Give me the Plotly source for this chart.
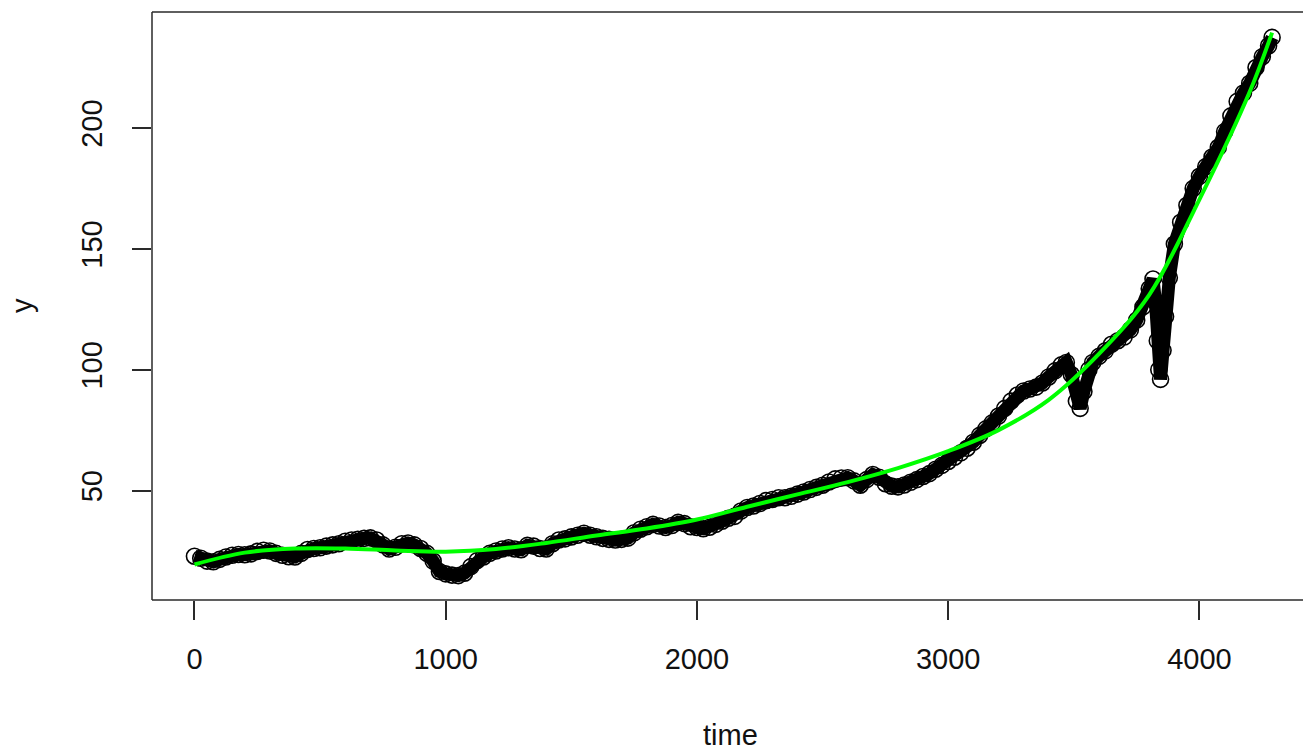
import plotly.graph_objects as go

time = [0, 25, 50, 75, 100, 125, 150, 175, 200, 225, 250, 275, 300, 325, 350, 375, 400, 425, 450, 475,
        500, 525, 550, 575, 600, 625, 650, 675, 700, 725, 750, 775, 800, 825, 850, 875, 900, 925, 950, 975,
        1000, 1025, 1050, 1075, 1100, 1125, 1150, 1175, 1200, 1225, 1250, 1275, 1300, 1325, 1350, 1375, 1400, 1425, 1450, 1475,
        1500, 1525, 1550, 1575, 1600, 1625, 1650, 1675, 1700, 1725, 1750, 1775, 1800, 1825, 1850, 1875, 1900, 1925, 1950, 1975,
        2000, 2025, 2050, 2075, 2100, 2125, 2150, 2175, 2200, 2225, 2250, 2275, 2300, 2325, 2350, 2375, 2400, 2425, 2450, 2475,
        2500, 2525, 2550, 2575, 2600, 2625, 2650, 2675, 2700, 2725, 2750, 2775, 2800, 2825, 2850, 2875, 2900, 2925, 2950, 2975,
        3000, 3025, 3050, 3075, 3100, 3125, 3150, 3175, 3200, 3225, 3250, 3275, 3300, 3325, 3350, 3375, 3400, 3425, 3450, 3470,
        3490, 3510, 3525, 3540, 3560, 3575, 3600, 3625, 3650, 3675, 3700, 3725, 3750, 3775, 3800, 3815, 3825, 3832, 3838, 3845,
        3855, 3865, 3880, 3900, 3925, 3950, 3975, 4000, 4025, 4050, 4075, 4100, 4125, 4150, 4175, 4200, 4225, 4250, 4275, 4289]
y = [22.8, 22.0, 20.8, 20.5, 21.5, 22.5, 23.2, 23.5, 23.4, 23.8, 24.8, 25.3, 25.0, 24.0, 23.2, 22.6, 22.5, 24.0, 25.6, 26.0,
     26.3, 27.0, 27.5, 28.0, 29.0, 29.5, 29.8, 30.2, 30.4, 29.5, 27.5, 25.8, 26.5, 28.0, 28.3, 27.5, 26.0, 24.0, 20.8, 16.5,
     15.5, 15.0, 14.8, 15.8, 18.5, 21.0, 22.5, 24.0, 25.0, 25.8, 26.3, 25.8, 25.5, 27.3, 27.0, 26.0, 25.8, 28.0, 29.5, 30.0,
     30.8, 31.5, 32.3, 31.5, 30.9, 30.2, 29.8, 29.5, 29.8, 30.3, 32.5, 34.0, 35.0, 36.0, 35.3, 34.7, 35.5, 36.8, 36.3, 35.0,
     34.7, 34.2, 34.8, 36.0, 37.3, 38.5, 39.3, 41.5, 43.0, 43.6, 44.6, 45.8, 46.3, 47.0, 47.0, 47.6, 48.5, 49.4, 50.4, 51.3,
     52.2, 53.5, 54.8, 55.2, 55.3, 54.0, 52.2, 54.5, 56.6, 55.5, 52.8, 51.8, 51.5, 52.3, 53.4, 54.5, 55.8, 57.0, 58.8, 60.4,
     62.0, 63.8, 65.6, 67.5, 70.0, 72.8, 75.5, 78.0, 80.8, 84.0, 87.0, 89.5, 91.2, 92.0, 92.8, 94.5, 97.0, 99.5, 102.0, 103.0,
     98.0, 87.0, 84.0, 91.0, 100.0, 103.0, 105.5, 107.8, 110.5, 112.0, 113.5, 116.5, 120.5, 126.0, 133.5, 137.5, 128.0, 112.0, 100.0, 96.0,
     108.0, 122.0, 138.0, 152.0, 161.0, 168.0, 175.0, 180.0, 184.0, 188.0, 192.0, 198.5, 205.0, 211.0, 214.5, 218.5, 225.0, 229.5, 234.0, 237.5]

# fitted trend (green)
fit_time = [0, 200, 400, 600, 800, 1000, 1200, 1400, 1600, 1800, 2000, 2200, 2400, 2600, 2800, 3000,
            3200, 3400, 3600, 3800, 4000, 4200, 4289]
fit_y = [19.4, 24.3, 26.0, 26.0, 25.2, 24.7, 25.8, 28.3, 31.4, 34.3, 38.0, 43.3, 48.4, 53.5, 59.3, 66.3,
         75.0, 87.5, 106.5, 131.0, 170.5, 215.0, 239.5]

x_ticks = [0, 1000, 2000, 3000, 4000]
y_ticks = [50, 100, 150, 200]

FONT = "Liberation Sans, Arial, sans-serif"
FS = 29

fig = go.Figure()
fig.add_trace(go.Scatter(x=time, y=y, mode="lines", line=dict(color="black", width=13),
                         hoverinfo="skip", showlegend=False))
fig.add_trace(go.Scatter(x=time, y=y, mode="markers",
                         marker=dict(symbol="circle-open", size=16, color="black", line=dict(width=1.6)),
                         showlegend=False))
fig.add_trace(go.Scatter(x=fit_time, y=fit_y, mode="lines", line=dict(color="#00ff00", width=4, shape="spline"),
                         showlegend=False))

frame = dict(color="#2a2a2a", width=1.5)
shapes = [
    dict(type="line", xref="paper", yref="paper", x0=0, x1=0, y0=0, y1=1, line=frame),
    dict(type="line", xref="paper", yref="paper", x0=0, x1=1.02, y0=0, y1=0, line=frame),
    dict(type="line", xref="paper", yref="paper", x0=0, x1=1.02, y0=1, y1=1, line=frame),
]

fig.update_layout(
    width=1303, height=750,
    margin=dict(l=152, r=0, t=12, b=150),
    plot_bgcolor="white", paper_bgcolor="white",
    font=dict(family=FONT, size=FS, color="#111111"),
    shapes=shapes,
    xaxis=dict(range=[-169, 4412], tickvals=x_ticks, ticks="outside", ticklen=19, tickwidth=1.5,
               tickcolor="#2a2a2a", showgrid=False, zeroline=False, showline=False,
               ticklabelstandoff=14, tickfont=dict(size=FS)),
    yaxis=dict(range=[4.7, 248.0], tickvals=y_ticks, ticks="outside", ticklen=19, tickwidth=1.5,
               tickcolor="#2a2a2a", showgrid=False, zeroline=False, showline=False,
               tickangle=-90, ticklabelstandoff=18, tickfont=dict(size=FS)),
    annotations=[
        dict(text="time", xref="paper", yref="paper", x=0.503, y=-0.2296, xanchor="center", yanchor="middle",
             showarrow=False, font=dict(size=FS)),
        dict(text="y", xref="paper", yref="paper", x=-0.1129, y=0.50, xanchor="center", yanchor="middle",
             textangle=-90, showarrow=False, font=dict(size=FS)),
    ],
)

fig.write_html("out.html")
